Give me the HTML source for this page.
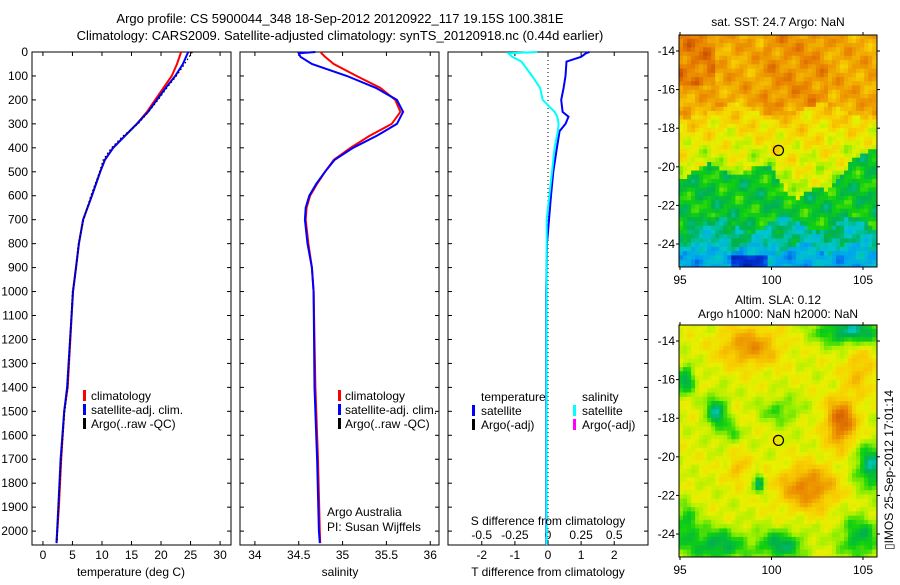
<!DOCTYPE html>
<html><head><meta charset="utf-8"><style>
html,body{margin:0;padding:0;background:#fff;}
svg text{font-family:"Liberation Sans",sans-serif;font-size:12px;fill:#000;}
</style></head><body>
<svg id="fig" width="900" height="580" viewBox="0 0 900 580" xmlns="http://www.w3.org/2000/svg">
<g>
<text x="340" y="23" text-anchor="middle" style="font-size:13px">Argo profile: CS 5900044_348 18-Sep-2012 20120922_117 19.15S 100.381E</text>
<text x="340" y="40" text-anchor="middle" style="font-size:13px">Climatology: CARS2009. Satellite-adjusted climatology: synTS_20120918.nc (0.44d earlier)</text>
</g>
<g id="p1"></g>
<g id="p2"></g>
<g id="p3"></g>
<g id="m1"></g>
<g id="m2"></g>
<g>
<rect x="83" y="390" width="3" height="11" fill="#f00"/>
<text x="91" y="400">climatology</text>
<rect x="83" y="404" width="3" height="11" fill="#00f"/>
<text x="91" y="414">satellite-adj. clim.</text>
<rect x="83" y="418" width="3" height="11" fill="#000"/>
<text x="91" y="428">Argo(..raw -QC)</text>
<rect x="338" y="390" width="3" height="11" fill="#f00"/>
<text x="345" y="400">climatology</text>
<rect x="338" y="404" width="3" height="11" fill="#00f"/>
<text x="345" y="414">satellite-adj. clim.</text>
<rect x="338" y="418" width="3" height="11" fill="#000"/>
<text x="345" y="428">Argo(..raw -QC)</text>
<text x="481" y="401">temperature</text>
<rect x="472" y="405" width="3" height="11" fill="#00f"/>
<text x="481" y="415">satellite</text>
<rect x="472" y="419" width="3" height="11" fill="#000"/>
<text x="481" y="429">Argo(-adj)</text>
<text x="582" y="401">salinity</text>
<rect x="573" y="405" width="3" height="11" fill="#0ff"/>
<text x="582" y="415">satellite</text>
<rect x="573" y="419" width="3" height="11" fill="#f0f"/>
<text x="582" y="429">Argo(-adj)</text>
<text x="327" y="516">Argo Australia</text>
<text x="327" y="531">PI: Susan Wijffels</text>
</g>
<text transform="translate(893,470) rotate(-90)" text-anchor="middle">▯IMOS 25-Sep-2012 17:01:14</text>
</svg>
<script>
// ---- data ----
const depthT = [0,50,100,150,200,250,300,350,400,450,500,600,700,800,900,1000,1400,1500,1700,1900,2050];
const tempClim = [23.4,22.7,21.8,20.4,19.0,17.6,15.9,13.9,11.9,10.5,9.7,8.3,6.8,6.1,5.6,5.1,4.2,3.6,3.1,2.7,2.3];
const tempSat = [24.6,23.7,22.4,20.8,19.3,17.8,15.9,13.9,11.9,10.5,9.7,8.3,6.8,6.1,5.6,5.1,4.1,3.6,3.0,2.6,2.3];
const tempArgo = [25.3,24.0,22.6,21.0,19.5,17.9,16.1,13.6,11.6,10.2,9.6,8.1,6.9,6.0,5.6,5.0,4.2,3.7,3.1,2.6,2.4];
const depthS = [0,5,20,50,100,150,200,250,300,350,400,450,500,550,600,650,700,800,900,1000,1400,1700,2000,2050];
const salClim = [34.75,34.76,34.8,34.9,35.16,35.43,35.6,35.66,35.56,35.31,35.09,34.9,34.8,34.71,34.63,34.59,34.58,34.61,34.65,34.67,34.69,34.72,34.74,34.745];
const salSat = [34.69,34.5,34.52,34.65,35.05,35.38,35.62,35.69,35.62,35.39,35.12,34.91,34.8,34.7,34.62,34.58,34.57,34.6,34.65,34.67,34.68,34.71,34.73,34.74];
const depthD = [0,5,20,40,100,150,200,250,270,300,330,400,500,600,700,800,1000,1400,1700,2058];
const dTsat = [1.25,1.15,1.0,0.56,0.53,0.47,0.4,0.44,0.62,0.53,0.35,0.27,0.16,0.09,0.03,-0.03,-0.05,-0.05,-0.05,-0.05];
const dSsat = [-0.08,-0.3,-0.27,-0.2,-0.12,-0.06,-0.04,0.05,0.07,0.08,0.075,0.05,0.03,0.01,-0.01,-0.01,-0.01,-0.01,-0.01,-0.01];
const depthTicks = [0,100,200,300,400,500,600,700,800,900,1000,1100,1200,1300,1400,1500,1600,1700,1800,1900,2000];
const tempTicks = [0,5,10,15,20,25,30];
const salTicks = [34,34.5,35,35.5,36];
const salTickLabels = ["34","34.5","35","35.5","36"];
const dTTicks = [-2,-1,0,1,2];
const dSTicks = [-0.5,-0.25,0,0.25,0.5];
const dSTickLabels = ["-0.5","-0.25","0","0.25","0.5"];
const latTicks = [-14,-16,-18,-20,-22,-24];
const lonTicks = [95,100,105];
const argoLon = 100.381, argoLat = -19.15;

const NS='http://www.w3.org/2000/svg';
function mk(tag, attrs, parent){const e=document.createElementNS(NS,tag);for(const k in attrs)e.setAttribute(k,attrs[k]);parent.appendChild(e);return e;}
const TOP=52, BOT=545;
const y = d => TOP + d*(BOT-TOP)/2058;

function panel(g, x0, x1, xmin, xmax){
  const sx = v => x0 + (v-xmin)*(x1-x0)/(xmax-xmin);
  const fr = mk('rect',{x:x0,y:TOP,width:x1-x0,height:BOT-TOP,fill:'none',stroke:'#000','stroke-width':1},g);
  
  
  depthTicks.forEach(d=>{
    const t1 = mk('line',{x1:x0,x2:x0+4,y1:y(d),y2:y(d),stroke:'#000'},g);
    
    
    const t2 = mk('line',{x1:x1-4,x2:x1,y1:y(d),y2:y(d),stroke:'#000'},g);
    
    
  });
  return sx;
}
function xticks(g, sx, ticks, labels, ly){
  ticks.forEach((v,i)=>{
    const a = mk('line',{x1:sx(v),x2:sx(v),y1:BOT,y2:BOT-4,stroke:'#000'},g);
    
    
    const b = mk('line',{x1:sx(v),x2:sx(v),y1:TOP,y2:TOP+4,stroke:'#000'},g);
    
    
    const t = mk('text',{x:sx(v),y:ly,'text-anchor':'middle'},g);
    t.textContent = labels[i];
    
    
  });
}
function line(g, sx, xs, ds, color, name, extra){
  const pts = xs.map((v,i)=>sx(v).toFixed(1)+','+y(ds[i]).toFixed(1)).join(' ');
  const p = mk('polyline',Object.assign({points:pts,fill:'none',stroke:color,'stroke-width':2},extra||{}),g);
  
  
}
function label(g,x,yy,txt,name,anchor){
  const t = mk('text',{x:x,y:yy,'text-anchor':anchor||'middle'},g);
  t.textContent = txt;
  
  
}

// panel 1
const g1=document.getElementById('p1');
const sx1 = panel(g1,32,231,-1.85,31.85);
depthTicks.forEach(d=>{
  const t = mk('text',{x:28,y:y(d)+4,'text-anchor':'end'},g1);
  t.textContent = d;
  
  
});
xticks(g1,sx1,tempTicks,tempTicks.map(String),559);
line(g1,sx1,tempClim,depthT,'#f00','temperature-climatology-line');
line(g1,sx1,tempSat,depthT,'#00f','temperature-satellite-line');
line(g1,sx1,tempArgo,depthT,'#000','temperature-argo-line',{'stroke-width':1.2,'stroke-dasharray':'1.5,2.5'});
label(g1,131,576,'temperature (deg C)','x-axis-title-temperature');

// panel 2
const g2=document.getElementById('p2');
const sx2 = panel(g2,240,439,33.83,36.1);
xticks(g2,sx2,salTicks,salTickLabels,559);
line(g2,sx2,salClim,depthS,'#f00','salinity-climatology-line');
line(g2,sx2,salSat,depthS,'#00f','salinity-satellite-line');
label(g2,340,576,'salinity','x-axis-title-salinity');

// panel 3
const g3=document.getElementById('p3');
const sx3 = panel(g3,448,648,-3.02,3.02);
xticks(g3,sx3,dTTicks,dTTicks.map(String),559);
const sxS = v => sx3(v*4);
dSTicks.forEach((v,i)=>label(g3,sxS(v),539,dSTickLabels[i],'s-tick-label'));
const z = mk('line',{x1:sx3(0),x2:sx3(0),y1:TOP,y2:BOT,stroke:'#000','stroke-dasharray':'1,3'},g3);


line(g3,sx3,dTsat,depthD,'#00f','t-difference-satellite-line');
line(g3,sxS,dSsat,depthD,'#0ff','s-difference-satellite-line');
label(g3,548,525,'S difference from climatology','s-axis-title');
label(g3,548,576,'T difference from climatology','t-axis-title');

// ---- maps ----
const pal=[[0,[0,16,160]],[0.15,[0,64,224]],[0.25,[0,160,240]],[0.35,[0,200,200]],[0.42,[0,176,80]],[0.5,[16,208,16]],[0.58,[160,240,0]],[0.65,[232,240,0]],[0.72,[248,208,0]],[0.8,[240,168,0]],[0.88,[232,128,0]],[1,[192,64,0]]];
function col(v){v=Math.max(0,Math.min(1,v));for(let i=1;i<pal.length;i++){if(v<=pal[i][0]){const a=pal[i-1],b=pal[i],f=(v-a[0])/(b[0]-a[0]);return 'rgb('+a[1].map((c,k)=>Math.round(c+(b[1][k]-c)*f)).join(',')+')';}}return 'rgb(192,64,0)';}
const tex=(la,lo)=>0.025*(Math.sin(la*3.1+lo*2.3)+Math.sin(la*5.7-lo*4.1)+0.6*Math.sin(lo*7.3+la*1.7));
function interp(xs,ys,x){if(x<=xs[0])return ys[0];for(let i=1;i<xs.length;i++)if(x<=xs[i]){const f=(x-xs[i-1])/(xs[i]-xs[i-1]);return ys[i-1]+f*(ys[i]-ys[i-1]);}return ys[ys.length-1];}
function sst(la,lo){
  const B2=interp([95,97,100,100.8,101.5,103,103.6,104.3,106],[-20.3,-20.1,-20.2,-21,-21.5,-21.4,-20.5,-19.5,-19.4],lo)+0.3*Math.sin(lo*2.1);
  const B1=-17.1+0.35*Math.sin(lo*1.3);
  let v;
  if(la>B1){v=0.8; if(lo<97&&la>-15.8)v=0.88; if(lo>99.5&&lo<103&&la>-16.8)v=0.84;}
  else if(la>B2){v=0.61+0.11*(la-B2)/(B1-B2);}
  else if(la>-23+0.4*Math.sin(lo*1.7)){v=0.47;}
  else if(la>-24.2+0.3*Math.sin(lo*2.3)){v=0.38;}
  else {v=0.28; if(lo>97.8&&lo<99.8&&la<-24.5)v=0.12;}
  return v+1.4*tex(la,lo);
}
const bumps=[[98.8,-14.3,1.6,1.0,0.2],[103.8,-18.2,0.8,1.2,0.3],[102,-21.6,1.5,1.1,0.24],[98.2,-20.6,0.6,0.7,0.12],[104.8,-15.5,0.8,1.2,0.12],
[104.3,-13.5,1.8,0.7,-0.26],[95.3,-16,0.5,0.7,-0.24],[97,-17.7,0.6,0.9,-0.24],[99.3,-21.4,0.3,0.5,-0.22],[105.5,-20.5,0.9,1.1,-0.26],
[100.5,-17.6,1.1,0.7,-0.12],[97,-24.6,1.6,0.9,-0.22],[100.5,-24.6,1.3,0.8,-0.22],[104.8,-24.2,1.1,1.1,-0.2],[95.3,-23.5,0.7,1.1,-0.16],[97.8,-18.8,0.5,0.5,-0.12]];
function sla(la,lo){let v=0.64;bumps.forEach(b=>{v+=b[4]*Math.exp(-(((lo-b[0])/b[2])**2+((la-b[1])/b[3])**2));});return v+0.8*tex(la,lo);}
function map(id, top, fn, titles, tY){
  const g=document.getElementById(id);
  const L=679,R=877,B=top+232;
  const sx=lo=>680+(lo-95)*18.3, sy=la=>top+16+(-14-la)*19.3;
  const lon0=95-1/18.3, lon1=95+(R-680)/18.3, la1=-14-(B-top-16)/19.3;
  const d=0.22;
  for(let lo=lon0;lo<lon1;lo+=d){for(let la=-13.15;la>la1;la-=d){
    mk('rect',{x:sx(lo).toFixed(1),y:sy(la).toFixed(1),width:(d*18.3+0.6).toFixed(1),height:(d*19.3+0.6).toFixed(1),fill:col(fn(la-d/2,lo+d/2))},g);
  }}
  mk('rect',{x:R,y:top-2,width:12,height:240,fill:'#fff'},g);
  mk('rect',{x:L,y:B,width:R-L,height:8,fill:'#fff'},g);
  const fr=mk('rect',{x:L,y:top,width:R-L,height:B-top,fill:'none',stroke:'#000'},g);
  
  
  latTicks.forEach(la=>{
    mk('line',{x1:L-3,x2:L,y1:sy(la),y2:sy(la),stroke:'#000'},g);
    mk('line',{x1:R,x2:R+3,y1:sy(la),y2:sy(la),stroke:'#000'},g);
    label(g,L-4,sy(la)+4,String(la),'lat-tick-label','end');
  });
  lonTicks.forEach(lo=>{
    mk('line',{x1:sx(lo),x2:sx(lo),y1:B,y2:B+3,stroke:'#000'},g);
    mk('line',{x1:sx(lo),x2:sx(lo),y1:top-3,y2:top,stroke:'#000'},g);
    label(g,sx(lo),B+17,String(lo),'lon-tick-label');
  });
  const c=mk('circle',{cx:sx(argoLon),cy:sy(argoLat),r:5,fill:'none',stroke:'#000','stroke-width':1.2},g);
  
  
  titles.forEach((t,i)=>label(g,778,tY[i],t,'map-title'));
}
map('m1',35,sst,['sat. SST: 24.7 Argo: NaN'],[26]);
map('m2',325,sla,['Altim. SLA: 0.12','Argo h1000: NaN h2000: NaN'],[304,318]);
</script>
</body></html>
